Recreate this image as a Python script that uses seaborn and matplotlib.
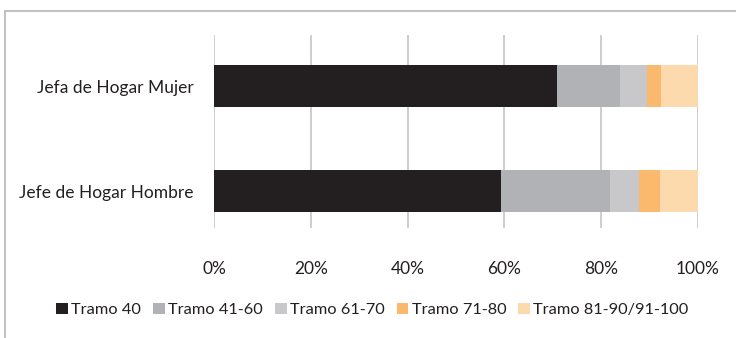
import numpy as np
import pandas as pd
import matplotlib
matplotlib.use("Agg")
import matplotlib.pyplot as plt
import seaborn as sns
from matplotlib.patches import Patch
from matplotlib.lines import Line2D

categories = ["Jefa de Hogar Mujer", "Jefe de Hogar Hombre"]
series = ["Tramo 40", "Tramo 41-60", "Tramo 61-70", "Tramo 71-80", "Tramo 81-90/91-100"]
tramo_40 = [70.8, 59.3]
tramo_41_60 = [13.1, 22.5]
tramo_61_70 = [5.7, 6.1]
tramo_71_80 = [2.8, 4.2]
tramo_81_100 = [7.6, 7.9]
colors = ["#231f20", "#b1b2b5", "#c8c8ca", "#fbb96e", "#fdd9ae"]
tick_labels = ["0%", "20%", "40%", "60%", "80%", "100%"]

sns.set_theme(style="white")
plt.rcParams["font.family"] = ["Lato", "DejaVu Sans"]

values = np.array([tramo_40, tramo_41_60, tramo_61_70, tramo_71_80, tramo_81_100])
cum = np.cumsum(values, axis=0)

fig = plt.figure(figsize=(7.36, 3.38), dpi=100)
ax = fig.add_axes([0.291, 0.325, 0.657, 0.571])

# stacked bars: draw cumulative totals from the widest down
for i in range(len(series) - 1, -1, -1):
    df = pd.DataFrame({"cat": categories, "val": cum[i]})
    sns.barplot(data=df, x="val", y="cat", orient="h", color=colors[i],
                saturation=1, width=0.4, ax=ax, linewidth=0)

ax.set_xlim(0, 100)
ax.set_ylim(1.352, -0.486)
ax.set_xticks([0, 20, 40, 60, 80, 100])
ax.set_xticklabels(tick_labels)
ax.xaxis.grid(True, color="#c6c6c6", linewidth=1.2)
ax.set_axisbelow(True)
for s in ax.spines.values():
    s.set_visible(False)
ax.set_xlabel("")
ax.set_ylabel("")
ax.tick_params(axis="x", length=0, pad=24, labelsize=12.5, colors="#231f20")
ax.tick_params(axis="y", length=0, pad=15, labelsize=12.5, colors="#231f20")

handles = [Patch(facecolor=c, edgecolor="none") for c in colors]
fig.legend(handles, series, loc="center", bbox_to_anchor=(0.506, 0.083), ncol=5,
           frameon=False, fontsize=11.8, handlelength=0.7, handleheight=0.7,
           handletextpad=0.2, columnspacing=0.75, labelcolor="#231f20")

# outer frame
fig.add_artist(Line2D([0.007, 1.0], [1 - 11 / 338, 1 - 11 / 338], color="#c2c2c2", lw=1.5,
                      transform=fig.transFigure))
fig.add_artist(Line2D([0.007, 0.007], [1 - 11 / 338, 0.0], color="#c2c2c2", lw=1.5,
                      transform=fig.transFigure))

fig.savefig("out.png", dpi=100)
